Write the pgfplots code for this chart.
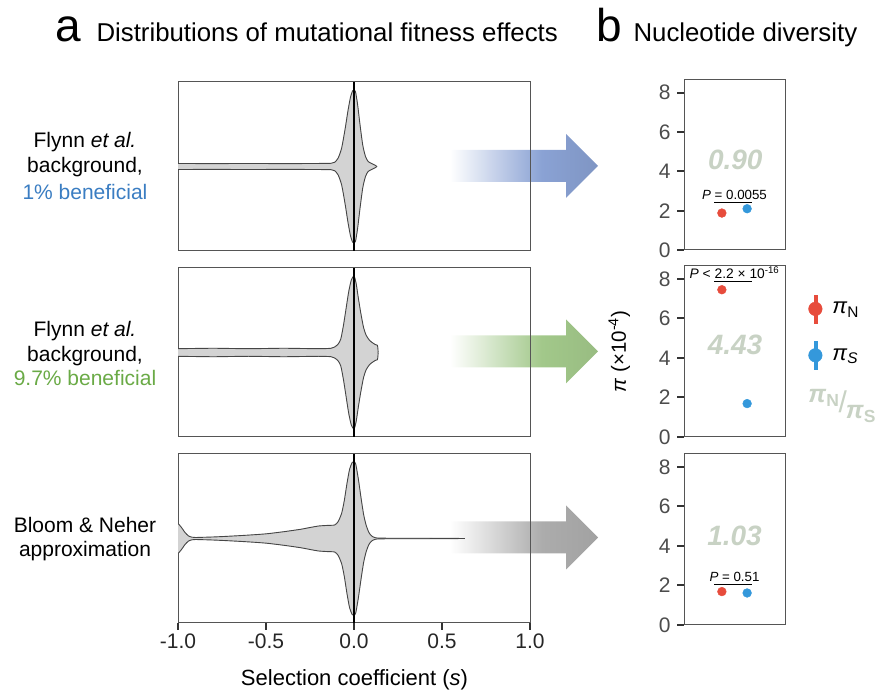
\documentclass[border=0pt]{standalone}
\usepackage{fontspec}
\setmainfont{Liberation Sans}
\usepackage{pgfplots}
\pgfplotsset{compat=1.18}
\usepackage{pgfplotstable}

\definecolor{vfill}{RGB}{211,211,211}
\definecolor{vline}{RGB}{70,70,70}
\definecolor{frame}{RGB}{85,85,85}
\definecolor{ptred}{RGB}{231,76,60}
\definecolor{ptblue}{RGB}{52,152,219}
\definecolor{ratio}{RGB}{200,210,196}
\definecolor{txblue}{RGB}{58,125,194}
\definecolor{txgreen}{RGB}{106,170,70}
\definecolor{arrblue}{RGB}{138,162,212}
\definecolor{arrgreen}{RGB}{162,200,138}
\definecolor{arrgray}{RGB}{172,172,172}

% arrow shadings: white at the tail, full colour from the panel edge on
\pgfdeclarehorizontalshading{shB}{100bp}{color(0bp)=(white); color(25bp)=(white);
  color(56bp)=(arrblue); color(75bp)=(arrblue!92!black); color(100bp)=(arrblue!92!black)}
\pgfdeclarehorizontalshading{shG}{100bp}{color(0bp)=(white); color(25bp)=(white);
  color(56bp)=(arrgreen); color(75bp)=(arrgreen!94!black); color(100bp)=(arrgreen!94!black)}
\pgfdeclarehorizontalshading{shK}{100bp}{color(0bp)=(white); color(25bp)=(white);
  color(56bp)=(arrgray); color(75bp)=(arrgray!94!black); color(100bp)=(arrgray!94!black)}

% half-widths of the violins (density scaled to the panel)
\pgfplotstableread{
s h
-1.0 0.036
-0.8 0.034
-0.6 0.036
-0.4 0.034
-0.2 0.036
-0.13 0.038
-0.11 0.05
-0.09 0.10
-0.07 0.22
-0.05 0.45
-0.035 0.65
-0.02 0.82
-0.008 0.895
0 0.905
0.008 0.89
0.02 0.74
0.035 0.48
0.05 0.25
0.065 0.12
0.08 0.06
0.1 0.035
0.12 0.015
0.13 0.0
}\vOne

\pgfplotstableread{
s h
-1.0 0.045
-0.8 0.05
-0.6 0.045
-0.4 0.05
-0.2 0.045
-0.13 0.05
-0.11 0.065
-0.09 0.10
-0.075 0.16
-0.06 0.32
-0.045 0.52
-0.03 0.72
-0.015 0.86
0 0.905
0.012 0.82
0.025 0.64
0.04 0.45
0.055 0.29
0.07 0.2
0.088 0.145
0.105 0.115
0.12 0.095
0.133 0.085
0.136 0.04
0.137 0.0
}\vTwo

\pgfplotstableread{
s h
-1.0 0.18
-0.98 0.13
-0.96 0.07
-0.94 0.03
-0.92 0.015
-0.9 0.012
-0.8 0.018
-0.7 0.028
-0.6 0.04
-0.5 0.055
-0.4 0.08
-0.3 0.11
-0.25 0.13
-0.2 0.148
-0.15 0.155
-0.11 0.16
-0.09 0.2
-0.07 0.3
-0.055 0.45
-0.04 0.65
-0.025 0.82
-0.01 0.9
0 0.91
0.01 0.88
0.025 0.7
0.04 0.48
0.055 0.28
0.07 0.15
0.085 0.07
0.1 0.03
0.12 0.01
0.15 0.004
0.3 0.003
0.5 0.002
0.63 0.0
}\vThree

\pgfplotsset{
  violinax/.style={scale only axis, width=352pt, height=169pt,
    xmin=-1, xmax=1, ymin=-1, ymax=1, ytick=\empty, xtick=\empty,
    axis line style={frame, line width=1pt}},
  divax/.style={scale only axis, width=101pt,
    xmin=-0.5, xmax=3.5, ymin=0, ymax=8.65, xtick=\empty,
    ytick={0,2,4,6,8}, yticklabels={0,2,4,6,8},
    tick align=outside, ytick pos=left, major tick length=7pt,
    ytick style={line width=2pt, black!80},
    yticklabel style={font=\fontsize{21}{21}\selectfont, text=black!70, xshift=-3pt},
    axis line style={frame, line width=1pt}},
  vout/.style={draw=vline, line width=0.9pt, smooth, tension=0.4},
  vin/.style={fill=vfill, draw=vfill, line width=0.6pt, smooth, tension=0.4},
  redpt/.style={only marks, mark=*, mark size=4.4pt, color=ptred},
  bluept/.style={only marks, mark=*, mark size=4.4pt, color=ptblue},
}

% one violin: two filled halves down to the s axis, then the outline
\newcommand{\violin}[1]{%
  \addplot[vin] table[x=s, y=h] {#1} \closedcycle;
  \addplot[vin] table[x=s, y expr=-\thisrow{h}] {#1} \closedcycle;
  \addplot[vout] table[x=s, y=h] {#1};
  \addplot[vout] table[x=s, y expr=-\thisrow{h}] {#1};
  \addplot[black, line width=1.3pt] coordinates {(0,-1) (0,1)};
}

\newcommand{\arr}[2]{%
  \path[yshift=#1pt, shading=#2] (450pt,-16pt) -- (566pt,-16pt) -- (566pt,-32pt)
    -- (598pt,0pt) -- (566pt,32pt) -- (566pt,16pt) -- (450pt,16pt) -- cycle;}

\begin{document}
\begin{tikzpicture}
\path[use as bounding box] (0,0) rectangle (876pt,693pt);

% ---- arrows (under the panels, as in the original) ----
\arr{527}{shB}
\arr{341.5}{shG}
\arr{155.5}{shK}

% ---- panel a ----
\begin{axis}[violinax, at={(178pt,442pt)}, anchor=south west]
\violin{\vOne}
\end{axis}

\begin{axis}[violinax, at={(178pt,256pt)}, anchor=south west]
\violin{\vTwo}
\end{axis}

\begin{axis}[violinax, at={(178pt,70pt)}, anchor=south west,
  xtick={-1,-0.5,0,0.5,1}, xticklabels={-1.0,-0.5,0.0,0.5,1.0},
  tick align=outside, xtick pos=bottom, major tick length=7pt,
  xtick style={line width=2pt, black!80},
  xticklabel style={font=\fontsize{21}{21}\selectfont, text=black!85}]
\violin{\vThree}
\end{axis}

% ---- panel b ----
\begin{axis}[divax, height=170pt, at={(684pt,443pt)}, anchor=south west]
\addplot[redpt] coordinates {(1,1.88)};
\addplot[bluept] coordinates {(2,2.10)};
\addplot[black, line width=0.8pt] coordinates {(0.7,2.43) (2.2,2.43)};
\node[font=\fontsize{13.3}{14}\selectfont] at (axis cs:1.5,2.82) {\textit{P} = 0.0055};
\node[font=\fontsize{28}{28}\selectfont\bfseries\itshape, text=ratio] at (axis cs:1.53,4.57) {0.90};
\end{axis}

\begin{axis}[divax, height=171pt, at={(684pt,256pt)}, anchor=south west,
  ylabel={\textit{π} (×10\textsuperscript{-4})},
  ylabel style={at={(axis description cs:-0.64,0.5)}, anchor=center,
    font=\fontsize{20.5}{21}\selectfont},
  legend style={at={(axis description cs:1.2,0.845)}, anchor=north west,
    draw=none, fill=none, font=\fontsize{22}{26}\selectfont,
    row sep=18pt, /tikz/every odd column/.append style={column sep=8pt}},
  legend cell align=left]
\addplot[redpt, forget plot] coordinates {(1,7.45)};
\addplot[bluept, forget plot] coordinates {(2,1.69)};
\addplot[black, line width=0.8pt, forget plot] coordinates {(0.7,7.85) (2.2,7.85)};
\node[font=\fontsize{13.8}{14}\selectfont] at (axis cs:1.5,8.3) {\textit{P} < 2.2 × 10\textsuperscript{-16}};
\node[font=\fontsize{28}{28}\selectfont\bfseries\itshape, text=ratio] at (axis cs:1.52,4.64) {4.43};
\addlegendimage{legend image code/.code={
  \fill[ptred] (-1.3pt,-14pt) rectangle (1.3pt,14pt);
  \fill[ptred] (0pt,0pt) circle (6.8pt);}}
\addlegendentry{\textit{π}\textsubscript{N}}
\addlegendimage{legend image code/.code={
  \fill[ptblue] (-1.3pt,-14pt) rectangle (1.3pt,14pt);
  \fill[ptblue] (0pt,0pt) circle (6.8pt);}}
\addlegendentry{\textit{π}\textsubscript{\textit{S}}}
\addlegendimage{empty legend}
\addlegendentry{\hspace*{-24pt}\textcolor{ratio}{\fontsize{25}{26}\selectfont\bfseries\raisebox{7pt}{\textit{π}\textsubscript{N}}\kern-1pt\raisebox{-3pt}{\fontsize{30}{30}\selectfont\mdseries /}\kern-1pt\raisebox{-9pt}{\textit{π}\textsubscript{S}}}}
\end{axis}

\begin{axis}[divax, height=171pt, at={(684pt,68pt)}, anchor=south west]
\addplot[redpt] coordinates {(1,1.69)};
\addplot[bluept] coordinates {(2,1.62)};
\addplot[black, line width=0.8pt] coordinates {(0.7,2.05) (2.2,2.05)};
\node[font=\fontsize{13.3}{14}\selectfont] at (axis cs:1.5,2.44) {\textit{P} = 0.51};
\node[font=\fontsize{28}{28}\selectfont\bfseries\itshape, text=ratio] at (axis cs:1.5,4.5) {1.03};
\end{axis}

% ---- titles and row labels ----
\node[anchor=base west, font=\fontsize{46}{46}\selectfont] at (52pt,651pt) {a};
\node[anchor=base west, font=\fontsize{25.8}{26}\selectfont] at (93pt,651pt) {Distributions of mutational fitness effects};
\node[anchor=base west, font=\fontsize{46}{46}\selectfont] at (593pt,651pt) {b};
\node[anchor=base west, font=\fontsize{25.8}{26}\selectfont] at (630pt,651pt) {Nucleotide diversity};

\begin{scope}[every node/.style={anchor=base, font=\fontsize{21}{21}\selectfont}]
\node at (85pt,545pt) {Flynn \textit{et al.}};
\node at (85pt,520pt) {background,};
\node[text=txblue] at (85pt,493pt) {1\% beneficial};
\node at (85pt,356pt) {Flynn \textit{et al.}};
\node at (85pt,331pt) {background,};
\node[text=txgreen] at (85pt,307pt) {9.7\% beneficial};
\node at (85pt,160pt) {Bloom \& Neher};
\node at (85pt,136pt) {approximation};
\end{scope}

\node[anchor=base, font=\fontsize{22}{22}\selectfont] at (354.5pt,7pt) {Selection coefficient (\textit{s})};
\end{tikzpicture}
\end{document}
